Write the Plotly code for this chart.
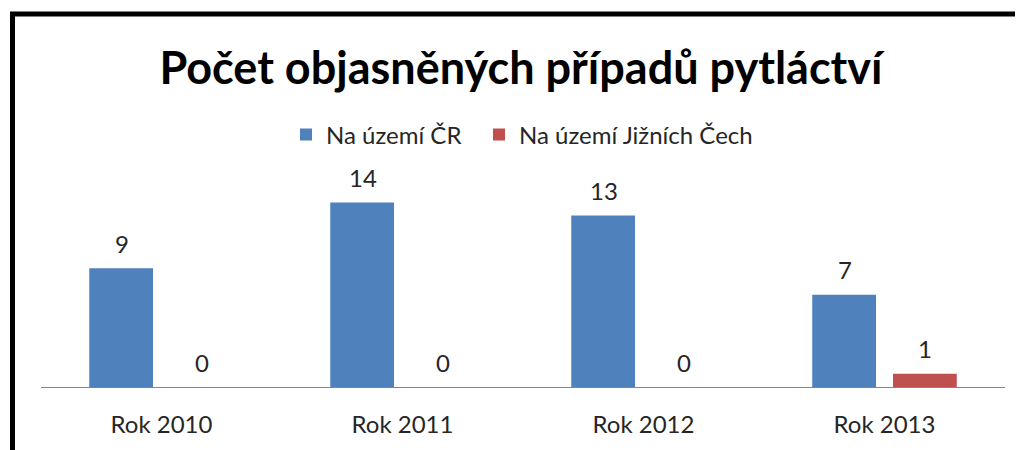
import plotly.graph_objects as go

categories = ["Rok 2010", "Rok 2011", "Rok 2012", "Rok 2013"]
cr_values = [9, 14, 13, 7]
jc_values = [0, 0, 0, 1]
series_names = ["Na území ČR", "Na území Jižních Čech"]
title_text = "Počet objasněných případů pytláctví"

BLUE = "#4F81BD"
RED = "#C0504D"
FONT = "Lato, 'Open Sans', sans-serif"
TXT = "#262626"

fig = go.Figure()
fig.add_trace(go.Bar(x=categories, y=cr_values, name=series_names[0],
                     marker_color=BLUE, marker_line_width=0, legend="legend",
                     showlegend=True))
fig.add_trace(go.Bar(x=categories, y=jc_values, name=series_names[1],
                     marker_color=RED, marker_line_width=0, legend="legend2",
                     showlegend=True))

# data labels
for c, v in zip(categories, cr_values):
    fig.add_annotation(x=c, y=v, text=str(v), showarrow=False, xshift=-40,
                       yshift=25, font=dict(size=24, color=TXT, family=FONT))
for c, v in zip(categories, jc_values):
    fig.add_annotation(x=c, y=v, text=str(v), showarrow=False, xshift=40,
                       yshift=25, font=dict(size=24, color=TXT, family=FONT))

# page has an 8px body margin; figure coords = page coords - 8
W, H = 1015, 442
L, R, B, T = 33, 18, 61, 168
pw, ph = W - L - R, H - T - B

def px_x(p):
    return (p - L) / pw

def px_y(p):
    return (H - B - p) / ph

fig.add_shape(type="rect", xref="paper", yref="paper",
              x0=px_x(4.5), x1=px_x(1040), y0=px_y(4.5), y1=px_y(480),
              line=dict(color="black", width=5), fillcolor="rgba(0,0,0,0)")

legend_common = dict(orientation="h", xanchor="left", xref="container",
                     y=1 - 127 / H, yanchor="middle", yref="container",
                     font=dict(size=24, color=TXT, family=FONT),
                     itemwidth=30, bgcolor="rgba(0,0,0,0)", visible=True)

fig.update_layout(
    width=W, height=H,
    margin=dict(l=L, r=R, t=T, b=B),
    paper_bgcolor="white", plot_bgcolor="white",
    showlegend=True,
    barmode="group", bargap=0.33, bargroupgap=0.21,
    title=dict(text="<b>" + title_text + "</b>", x=513 / W, xanchor="center",
               y=1 - 60 / H, yanchor="middle", yref="container",
               font=dict(size=45, color="black", family=FONT)),
    legend=dict(x=278 / W, **legend_common),
    legend2=dict(x=471 / W, **legend_common),
    xaxis=dict(showline=True, linecolor="#868686", linewidth=1, ticks="",
               tickfont=dict(size=24, color=TXT, family=FONT),
               ticklabelstandoff=16, showgrid=False),
    yaxis=dict(range=[0, 16], visible=False, showgrid=False, zeroline=False),
)

fig.write_html("out.html")
